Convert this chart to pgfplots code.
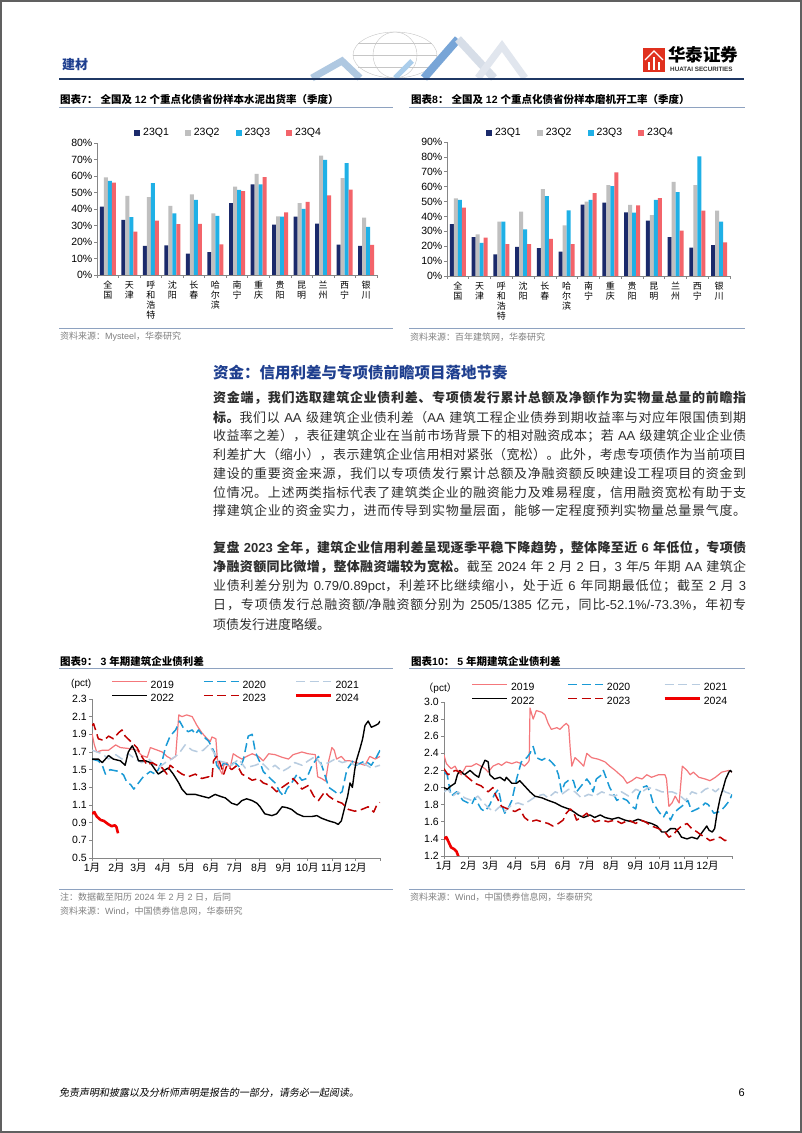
\documentclass[border=0pt]{standalone}
\usepackage{pgfplots}
\pgfplotsset{compat=1.18}
\usepackage{pgfplotstable}
\usepackage{fontspec}
\setmainfont{Liberation Sans}
\newfontfamily\cjk{Noto Sans CJK SC}
\newfontfamily\cjkit{Noto Sans CJK SC}[FakeSlant=0.18]

\definecolor{cQ1}{HTML}{1B2A6B}
\definecolor{cQ2}{HTML}{BFBFBF}
\definecolor{cQ3}{HTML}{1FB0E6}
\definecolor{cQ4}{HTML}{F3646A}
\definecolor{c19}{HTML}{F4777B}
\definecolor{c20}{HTML}{1A9AD6}
\definecolor{c21}{HTML}{B8CCE0}
\definecolor{c22}{HTML}{000000}
\definecolor{c23}{HTML}{C00000}
\definecolor{c24}{HTML}{F00000}
\definecolor{hblue}{HTML}{1F3F8F}
\definecolor{hnavy}{HTML}{1F3864}
\definecolor{tline}{HTML}{8EA2C0}
\definecolor{srcgray}{HTML}{808080}
\definecolor{axgray}{HTML}{868686}
\definecolor{logored}{HTML}{E0301E}
\definecolor{dA}{RGB}{175,200,225}
\definecolor{dB}{RGB}{120,165,215}
\definecolor{dC}{RGB}{215,222,232}
\definecolor{dD}{RGB}{225,230,238}
\definecolor{dE}{RGB}{170,205,235}

\pgfplotstableread{
i q1 q2 q3 q4
0 41.5 59.1 57.1 56.0
1 33.4 48.0 35.0 26.3
2 17.6 47.2 55.7 33.0
3 18.0 41.9 37.4 30.8
4 13.0 48.8 45.5 31.0
5 13.8 37.4 35.8 18.6
6 43.5 53.6 51.6 50.8
7 54.9 61.3 54.9 59.3
8 30.6 35.6 35.4 38.0
9 35.4 43.5 40.0 44.3
10 31.2 72.3 69.8 48.2
11 18.4 58.7 67.8 51.8
12 17.6 34.8 29.1 18.2
}\tabA
\pgfplotstableread{
i q1 q2 q3 q4
0 34.9 52.2 51.1 45.9
1 26.1 27.9 22.3 25.7
2 14.6 36.5 36.5 21.4
3 19.6 43.2 31.3 21.4
4 18.7 58.3 53.6 25.0
5 16.4 34.0 44.1 21.4
6 48.0 50.0 51.1 55.6
7 49.3 61.0 60.4 69.6
8 42.8 47.7 42.6 47.5
9 37.2 40.8 51.1 52.3
10 26.1 63.3 56.3 30.4
11 19.1 61.0 80.4 43.9
12 20.7 43.9 36.5 22.5
}\tabB

\pgfplotsset{
 barax/.style={scale only axis, ybar=0pt, bar width=4pt, ymin=0, xmin=-0.5, xmax=12.5,
   xtick={0,...,12},
   xticklabels={{全\\国},{天\\津},{呼\\和\\浩\\特},{沈\\阳},{长\\春},{哈\\尔\\滨},{南\\宁},{重\\庆},{贵\\阳},{昆\\明},{兰\\州},{西\\宁},{银\\川}},
   axis lines*=left, axis line style={axgray, line width=0.6pt},
   tick align=outside, major tick length=3pt, minor tick length=3pt,
   every major x tick/.append style={draw=none},
   minor xtick={-0.5,0.5,...,12.5},
   every minor x tick/.append style={axgray, line width=0.6pt},
   ytick style={axgray, line width=0.6pt},
   yticklabel={\pgfmathprintnumber{\tick}\%},
   /pgf/number format/assume math mode=true,
   yticklabel style={font=\fontsize{10.5}{12}\selectfont, inner sep=1.5pt},
   xticklabel style={font=\fontsize{9}{10}\selectfont, align=center, anchor=north, inner sep=0pt, yshift=-3pt},
   legend columns=4,
   legend image code/.code={\fill[##1] (0pt,-3pt) rectangle (6pt,3pt);},
   legend style={draw=none, fill=none, font=\fontsize{10.5}{12}\selectfont, anchor=center, nodes={inner sep=1pt},
     /tikz/every odd column/.append style={column sep=2pt},
     /tikz/every even column/.append style={column sep=15pt}},
 },
 lineax/.style={scale only axis, xmin=0, xmax=365,
   xtick={0,31,59,90,120,151,181,212,243,273,304,334},
   xticklabels={1月,2月,3月,4月,5月,6月,7月,8月,9月,10月,11月,12月},
   extra x ticks={365}, extra x tick labels={},
   axis lines*=left, axis line style={axgray, line width=0.6pt},
   tick align=outside, major tick length=3pt,
   tick style={axgray, line width=0.6pt},
   /pgf/number format/assume math mode=true,
   ticklabel style={font=\fontsize{10.5}{12}\selectfont},
   yticklabel style={/pgf/number format/fixed, /pgf/number format/fixed zerofill, /pgf/number format/precision=1, inner sep=2pt},
   xticklabel style={inner sep=2pt},
   legend columns=3,
   legend image code/.code={\draw[##1] (0pt,3.5pt) -- (35pt,3.5pt);},
   legend style={draw=none, fill=none, font=\fontsize{10.5}{12}\selectfont, anchor=north west, nodes={inner sep=1pt},
     /tikz/every odd column/.append style={column sep=2pt}, row sep=3pt},
   every axis plot/.append style={line join=round},
 },
 s19/.style={c19, line width=1.2pt},
 s20/.style={c20, line width=1.5pt, dash pattern=on 9pt off 4.5pt},
 s21/.style={c21, line width=1.5pt, dash pattern=on 9pt off 4.5pt},
 s22/.style={c22, line width=1.4pt},
 s23/.style={c23, line width=1.5pt, dash pattern=on 9pt off 4.5pt},
 s24/.style={c24, line width=2.6pt},
}

\XeTeXinterchartokenstate=1
\newXeTeXintercharclass\CJKcls
\newcount\cc
\def\setcls#1#2{\cc=#1\relax\loop\XeTeXcharclass\cc=\CJKcls\relax\ifnum\cc<#2\relax\advance\cc by 1\repeat}
\setcls{"3000}{"303F}
\setcls{"4E00}{"9FFF}
\setcls{"FF00}{"FFEF}
\XeTeXinterchartoks 0 \CJKcls = {\cjk}
\XeTeXinterchartoks 4095 \CJKcls = {\cjk}
\XeTeXinterchartoks \CJKcls 0 = {\rmfamily}
\XeTeXinterchartoks \CJKcls 4095 = {\rmfamily}
\XeTeXinterchartoks \CJKcls \CJKcls = {\hskip0pt plus 1pt\relax}

\newcommand\bl[2]{\node[anchor=west,inner sep=0pt,font=\fontsize{13}{14}\selectfont,text=black!82] at (213,#1) {\makebox[533pt][s]{#2}};}
\newcommand\blast[2]{\node[anchor=west,inner sep=0pt,font=\fontsize{13}{14}\selectfont,text=black!82] at (213,#1) {#2};}

\begin{document}
\begin{tikzpicture}[x=1pt,y=1pt]
\useasboundingbox (0,0) rectangle (802,1133);
\fill[white] (0,0) rectangle (802,1133);
\draw[gray!75!black, line width=2pt] (1,1) rectangle (801,1132);

% ---------- header ----------
\begin{scope}
\draw[gray!45, line width=0.4pt] (395,1078) ellipse (42 and 23);
\draw[gray!45, line width=0.4pt] (395,1078) ellipse (22 and 23);
\draw[gray!45, line width=0.4pt] (353,1078) -- (437,1078);
\draw[gray!45, line width=0.4pt] (358,1066) -- (432,1066);
\draw[gray!45, line width=0.4pt] (358,1090) -- (432,1090);
\draw[line width=7pt, dA] (312,1055) -- (342,1072) -- (360,1055);
\draw[line width=8pt, dB] (424,1055) -- (458,1094);
\draw[line width=8pt, dC] (458,1094) -- (494,1055);
\draw[line width=7pt, dD] (478,1055) -- (502,1087) -- (525,1055);
\draw[line width=5pt, dE] (395,1055) -- (412,1072);
\end{scope}
\node[anchor=west, inner sep=0pt, text=hblue, font=\bfseries\fontsize{13}{14}\selectfont] at (62,1068) {建材};
\draw[hnavy, line width=2pt] (59,1054) -- (744,1054);
\fill[logored] (643,1061) rectangle (665,1085);
\draw[white, line width=1.3pt] (645,1073) -- (654,1082) -- (663,1073);
\draw[white, line width=1.3pt] (649,1063) -- (649,1071) (654,1063) -- (654,1076) (659,1063) -- (659,1071);
\node[anchor=west, inner sep=0pt, font=\bfseries\fontsize{17.5}{18}\selectfont] at (668,1078) {华泰证券};
\node[anchor=west, inner sep=0pt, font=\bfseries\fontsize{6.3}{7}\selectfont, text=black!80] at (670,1064) {HUATAI SECURITIES};

% ---------- figure titles top ----------
\node[anchor=west, inner sep=0pt, font=\bfseries\fontsize{10.5}{11}\selectfont] at (60,1033) {图表7：\hspace{3pt}全国及 12 个重点化债省份样本水泥出货率（季度）};
\draw[tline, line width=0.8pt] (59,1026) -- (393,1026);
\node[anchor=west, inner sep=0pt, font=\bfseries\fontsize{10.5}{11}\selectfont] at (411,1033) {图表8：\hspace{3pt}全国及 12 个重点化债省份样本磨机开工率（季度）};
\draw[tline, line width=0.8pt] (409,1026) -- (745,1026);

% ---------- chart 7 ----------
\begin{axis}[barax, at={(97pt,858pt)}, anchor=south west, width=280pt, height=132pt,
  ymax=80, ytick={0,10,...,80}, legend style={at={(0.468,1.076)}}]
\addplot[fill=cQ1, draw=none] table[x=i,y=q1]{\tabA};
\addplot[fill=cQ2, draw=none] table[x=i,y=q2]{\tabA};
\addplot[fill=cQ3, draw=none] table[x=i,y=q3]{\tabA};
\addplot[fill=cQ4, draw=none] table[x=i,y=q4]{\tabA};
\legend{23Q1,23Q2,23Q3,23Q4}
\end{axis}

% ---------- chart 8 ----------
\begin{axis}[barax, at={(447pt,857pt)}, anchor=south west, width=283pt, height=134pt,
  ymax=90, ytick={0,10,...,90}, legend style={at={(0.47,1.067)}}]
\addplot[fill=cQ1, draw=none] table[x=i,y=q1]{\tabB};
\addplot[fill=cQ2, draw=none] table[x=i,y=q2]{\tabB};
\addplot[fill=cQ3, draw=none] table[x=i,y=q3]{\tabB};
\addplot[fill=cQ4, draw=none] table[x=i,y=q4]{\tabB};
\legend{23Q1,23Q2,23Q3,23Q4}
\end{axis}

\draw[tline, line width=0.6pt] (59,805) -- (393,805);
\draw[tline, line width=0.6pt] (409,805) -- (745,805);
\node[anchor=west, inner sep=0pt, text=srcgray, font=\fontsize{9}{10}\selectfont] at (60,796) {资料来源：Mysteel，华泰研究};
\node[anchor=west, inner sep=0pt, text=srcgray, font=\fontsize{9}{10}\selectfont] at (410,796) {资料来源：百年建筑网，华泰研究};

% ---------- text ----------
\node[anchor=west, inner sep=0pt, text=hblue, font=\bfseries\fontsize{15.5}{16}\selectfont] at (213,760) {资金：信用利差与专项债前瞻项目落地节奏};
\bl{734.7}{\bfseries 资金端，我们选取建筑企业债利差、专项债发行累计总额及净额作为实物量总量的前瞻指}
\bl{715.7}{{\bfseries 标。}我们以 AA 级建筑企业债利差（AA 建筑工程企业债券到期收益率与对应年限国债到期}
\bl{697}{收益率之差），表征建筑企业在当前市场背景下的相对融资成本；若 AA 级建筑企业企业债}
\bl{678}{利差扩大（缩小），表示建筑企业信用相对紧张（宽松）。此外，考虑专项债作为当前项目}
\bl{659.3}{建设的重要资金来源，我们以专项债发行累计总额及净融资额反映建设工程项目的资金到}
\bl{640.7}{位情况。上述两类指标代表了建筑类企业的融资能力及难易程度，信用融资宽松有助于支}
\bl{622}{撑建筑企业的资金实力，进而传导到实物量层面，能够一定程度预判实物量总量景气度。}
\bl{584.7}{\bfseries 复盘 2023 全年，建筑企业信用利差呈现逐季平稳下降趋势，整体降至近 6 年低位，专项债}
\bl{565.7}{{\bfseries 净融资额同比微增，整体融资端较为宽松。}截至 2024 年 2 月 2 日，3 年/5 年期 AA 建筑企}
\bl{547}{业债利差分别为 0.79/0.89pct，利差环比继续缩小，处于近 6 年同期最低位；截至 2 月 3}
\bl{528}{日，专项债发行总融资额/净融资额分别为 2505/1385 亿元，同比-52.1\%/-73.3\%，年初专}
\blast{508.7}{项债发行进度略缓。}

% ---------- figure titles bottom ----------
\node[anchor=west, inner sep=0pt, font=\bfseries\fontsize{10.5}{11}\selectfont] at (60,472) {图表9：\hspace{3pt}3 年期建筑企业债利差};
\draw[tline, line width=0.8pt] (59,465) -- (393,465);
\node[anchor=west, inner sep=0pt, font=\bfseries\fontsize{10.5}{11}\selectfont] at (411,472) {图表10：\hspace{3pt}5 年期建筑企业债利差};
\draw[tline, line width=0.8pt] (409,465) -- (745,465);

% ---------- chart 9 ----------
\node[anchor=west, inner sep=0pt, font=\fontsize{10}{11}\selectfont] at (71,449) {(pct)};
\begin{axis}[lineax, at={(92pt,275pt)}, anchor=south west, width=288pt, height=159pt,
  ymin=0.5, ymax=2.3, ytick={0.5,0.7,0.9,1.1,1.3,1.5,1.7,1.9,2.1,2.3},
  legend style={at={(0.056,1.135)}, /tikz/every even column/.append style={column sep=28pt}}]
\addplot[s19] coordinates {(0,1.91)(3,1.78)(6,1.70)(13,1.72)(21,1.72)(30,1.78)(36,1.75)(46,1.74)(57,1.72)(63,1.66)(70,1.64)(74,1.75)(80,1.73)(89,1.70)(95,1.65)(101,1.62)(106,1.65)(110,2.12)(114,2.10)(120,2.12)(127,2.10)(133,2.00)(139,1.92)(146,1.85)(150,1.82)(152,1.87)(157,1.85)(159,1.60)(162,1.50)(165,1.45)(167,1.55)(171,1.58)(175,1.52)(179,1.68)(184,1.65)(190,1.62)(196,1.65)(203,1.68)(211,1.65)(217,1.60)(224,1.68)(232,1.67)(241,1.64)(249,1.62)(255,1.67)(266,1.70)(274,1.68)(283,1.67)(286,1.42)(291,1.40)(296,1.37)(300,1.60)(304,1.75)(307,1.72)(310,1.62)(316,1.65)(321,1.60)(327,1.60)(335,1.58)(346,1.55)(352,1.65)(359,1.62)(365,1.65)};
\addplot[s20] coordinates {(0,1.62)(8,1.60)(13,1.55)(17,1.45)(23,1.50)(34,1.48)(40,1.44)(44,1.36)(49,1.33)(53,1.28)(59,1.35)(65,1.42)(74,1.48)(80,1.45)(84,1.50)(89,1.60)(93,1.75)(99,1.88)(106,1.95)(111,2.05)(116,1.97)(122,1.93)(127,1.95)(131,1.90)(135,1.95)(141,1.88)(148,1.82)(152,1.75)(155,1.70)(158,1.55)(162,1.50)(167,1.58)(173,1.55)(181,1.58)(188,1.52)(192,1.62)(198,1.88)(203,1.90)(207,1.70)(213,1.58)(217,1.48)(226,1.40)(232,1.35)(238,1.25)(243,1.20)(247,1.28)(253,1.35)(260,1.45)(266,1.38)(272,1.40)(279,1.55)(287,1.65)(293,1.50)(300,1.30)(308,1.25)(312,1.22)(317,1.25)(323,1.50)(331,1.60)(335,1.55)(346,1.60)(354,1.55)(361,1.65)(365,1.72)};
\addplot[s21] coordinates {(0,1.72)(13,1.68)(21,1.62)(30,1.67)(38,1.62)(46,1.68)(55,1.62)(63,1.58)(72,1.62)(80,1.55)(84,1.52)(93,1.58)(101,1.62)(110,1.68)(118,1.78)(127,1.72)(135,1.70)(141,1.72)(148,1.78)(154,1.70)(160,1.60)(169,1.58)(177,1.55)(186,1.62)(194,1.52)(207,1.55)(215,1.58)(224,1.50)(232,1.55)(241,1.48)(249,1.52)(257,1.58)(266,1.55)(274,1.60)(283,1.65)(291,1.55)(300,1.58)(308,1.62)(317,1.58)(325,1.60)(333,1.55)(342,1.58)(354,1.52)(365,1.55)};
\addplot[s22] coordinates {(0,1.62)(8,1.62)(13,1.58)(17,1.62)(21,1.66)(27,1.62)(36,1.60)(42,1.55)(46,1.70)(51,1.77)(55,1.70)(59,1.60)(68,1.60)(74,1.58)(80,1.50)(84,1.45)(89,1.48)(97,1.52)(103,1.45)(110,1.35)(114,1.28)(120,1.22)(131,1.22)(139,1.20)(148,1.18)(156,1.22)(162,1.20)(169,1.18)(177,1.12)(184,1.10)(190,1.15)(196,1.17)(203,1.15)(209,1.12)(213,1.08)(219,1.00)(228,0.98)(234,1.00)(241,1.08)(247,1.07)(253,1.05)(260,1.00)(268,0.97)(279,0.97)(285,0.98)(291,0.95)(300,0.92)(308,0.90)(312,0.88)(316,0.92)(321,1.10)(324,1.20)(327,1.35)(330,1.30)(333,1.50)(335,1.60)(340,1.75)(343,1.85)(346,2.00)(350,2.05)(354,1.98)(359,2.00)(363,2.02)(365,2.05)};
\addplot[s23] coordinates {(0,2.00)(2,2.02)(8,1.85)(15,1.83)(21,1.88)(27,1.85)(34,1.92)(38,1.95)(42,1.88)(49,1.82)(57,1.75)(63,1.65)(70,1.55)(76,1.58)(82,1.55)(89,1.52)(95,1.45)(99,1.55)(106,1.50)(114,1.45)(122,1.42)(131,1.45)(139,1.40)(148,1.42)(152,1.40)(154,1.60)(158,1.65)(162,1.58)(167,1.45)(171,1.55)(177,1.50)(184,1.55)(190,1.45)(196,1.42)(203,1.38)(211,1.40)(217,1.35)(226,1.32)(234,1.25)(241,1.30)(249,1.35)(255,1.40)(260,1.35)(266,1.28)(274,1.32)(281,1.20)(287,1.15)(295,1.25)(300,1.20)(308,1.15)(317,1.12)(325,1.05)(333,1.03)(342,1.05)(350,1.08)(357,1.02)(361,1.10)(365,1.13)};
\addplot[s24] coordinates {(0,1.00)(3,1.02)(6,0.97)(11,0.93)(15,0.92)(21,0.88)(25,0.86)(29,0.87)(31,0.85)(33,0.78)};
\legend{2019,2020,2021,2022,2023,2024}
\end{axis}

% ---------- chart 10 ----------
\node[anchor=east, inner sep=0pt, font=\fontsize{10}{11}\selectfont] at (457,445) {（pct）};
\begin{axis}[lineax, at={(444pt,277pt)}, anchor=south west, width=288pt, height=154pt,
  ymin=1.2, ymax=3.0, ytick={1.2,1.4,1.6,1.8,2.0,2.2,2.4,2.6,2.8,3.0},
  legend style={at={(0.085,1.14)}, /tikz/every even column/.append style={column sep=32pt}}]
\addplot[s19] coordinates {(0,2.38)(3,2.28)(9,2.22)(14,2.25)(18,2.18)(22,2.15)(28,2.25)(35,2.25)(41,2.28)(47,2.25)(52,2.22)(56,2.18)(62,2.25)(69,2.28)(73,2.26)(79,2.30)(86,2.28)(92,2.30)(98,2.28)(102,2.25)(107,2.30)(108,2.32)(109,2.93)(113,2.80)(117,2.90)(124,2.88)(128,2.85)(132,2.75)(136,2.68)(143,2.70)(147,2.68)(151,2.72)(155,2.75)(158,2.72)(160,2.45)(162,2.25)(166,2.35)(172,2.30)(177,2.25)(181,2.40)(187,2.35)(196,2.33)(204,2.30)(210,2.25)(217,2.20)(223,2.15)(227,2.12)(232,2.05)(238,2.08)(244,2.12)(251,2.10)(257,2.15)(263,2.12)(272,2.15)(280,2.15)(282,2.10)(285,1.78)(289,1.82)(293,1.90)(296,1.85)(298,1.82)(302,2.25)(308,2.20)(312,2.15)(316,2.18)(323,2.12)(331,2.10)(337,2.08)(344,2.12)(352,2.18)(361,2.20)(365,2.18)};
\addplot[s20] coordinates {(0,2.18)(4,2.15)(9,1.90)(16,1.95)(24,1.85)(35,1.80)(39,1.88)(47,1.75)(52,1.72)(58,1.80)(64,1.92)(69,1.98)(73,1.80)(77,1.70)(81,1.75)(86,1.85)(92,2.10)(98,2.30)(105,2.35)(109,2.40)(113,2.48)(117,2.35)(124,2.32)(130,2.35)(136,2.30)(141,2.25)(145,2.15)(147,2.05)(149,1.95)(153,2.05)(160,2.10)(164,2.08)(168,1.95)(174,2.02)(181,2.10)(185,2.05)(189,1.95)(193,2.10)(200,2.15)(202,2.20)(206,2.10)(210,2.00)(215,1.92)(219,1.85)(225,1.88)(232,1.85)(238,1.78)(243,1.75)(246,1.90)(251,2.00)(257,2.02)(261,1.95)(265,1.82)(272,1.72)(278,1.65)(282,1.72)(287,1.62)(291,1.70)(297,1.75)(304,1.80)(309,1.85)(314,1.72)(321,1.75)(327,1.78)(331,1.82)(335,1.80)(342,1.70)(350,1.72)(356,1.78)(362,1.85)(365,1.92)};
\addplot[s21] coordinates {(0,1.95)(5,1.98)(11,1.90)(18,1.95)(26,1.88)(35,1.85)(43,1.90)(50,1.82)(58,1.75)(64,1.72)(71,1.78)(77,1.72)(86,1.80)(94,1.82)(100,1.80)(109,1.85)(117,1.90)(126,1.92)(132,1.88)(141,1.95)(149,1.92)(158,1.98)(166,1.95)(174,1.88)(183,1.92)(191,1.90)(200,1.95)(208,1.92)(217,1.90)(225,1.95)(234,1.90)(243,1.98)(251,1.95)(259,2.00)(268,1.98)(276,1.95)(289,1.95)(297,1.92)(306,1.85)(314,1.95)(323,1.92)(331,1.98)(337,2.00)(344,1.95)(350,2.00)(356,1.95)(365,1.92)};
\addplot[s22] coordinates {(0,2.00)(4,1.98)(9,2.02)(14,2.05)(17,2.15)(20,2.20)(26,2.15)(33,2.20)(39,2.15)(44,2.12)(47,2.22)(52,2.32)(56,2.30)(58,2.15)(64,2.10)(71,2.12)(77,2.08)(79,2.12)(86,2.05)(92,2.05)(96,2.08)(102,2.02)(109,1.95)(115,1.90)(124,1.88)(132,1.85)(141,1.82)(149,1.78)(158,1.75)(164,1.72)(170,1.68)(177,1.65)(185,1.68)(191,1.65)(198,1.68)(204,1.65)(213,1.63)(221,1.65)(229,1.62)(238,1.60)(246,1.63)(255,1.60)(263,1.58)(270,1.55)(276,1.48)(282,1.48)(287,1.52)(293,1.52)(297,1.48)(301,1.42)(308,1.40)(314,1.42)(321,1.40)(325,1.45)(329,1.50)(333,1.55)(336,1.50)(340,1.48)(343,1.52)(346,1.70)(350,1.88)(354,2.00)(357,2.10)(361,2.18)(363,2.20)(365,2.18)};
\addplot[s23] coordinates {(0,2.22)(5,2.15)(14,2.20)(22,2.18)(30,2.12)(39,2.05)(47,2.02)(56,1.95)(62,2.00)(66,1.90)(73,1.78)(81,1.75)(90,1.72)(96,1.75)(102,1.65)(109,1.60)(117,1.62)(124,1.60)(132,1.58)(138,1.55)(145,1.58)(151,1.62)(155,1.70)(160,1.75)(164,1.72)(168,1.62)(174,1.65)(181,1.70)(185,1.65)(191,1.60)(200,1.62)(208,1.60)(217,1.62)(225,1.58)(234,1.62)(243,1.58)(249,1.62)(255,1.60)(263,1.55)(272,1.52)(280,1.48)(285,1.42)(291,1.45)(295,1.50)(301,1.55)(308,1.58)(314,1.52)(321,1.48)(325,1.45)(331,1.42)(337,1.38)(344,1.40)(350,1.42)(356,1.38)(363,1.40)};
\addplot[s24] coordinates {(0,1.40)(3,1.42)(5,1.38)(9,1.30)(13,1.28)(16,1.25)(18,1.20)(22,1.12)(28,1.00)(32,0.89)};
\legend{2019,2020,2021,2022,2023,2024}
\end{axis}

\draw[tline, line width=0.6pt] (59,244) -- (393,244);
\draw[tline, line width=0.6pt] (409,244) -- (745,244);
\node[anchor=west, inner sep=0pt, text=srcgray, font=\fontsize{9}{10}\selectfont] at (60,236) {注：数据截至阳历 2024 年 2 月 2 日，后同};
\node[anchor=west, inner sep=0pt, text=srcgray, font=\fontsize{9}{10}\selectfont] at (60,222) {资料来源：Wind，中国债券信息网，华泰研究};
\node[anchor=west, inner sep=0pt, text=srcgray, font=\fontsize{9}{10}\selectfont] at (410,236) {资料来源：Wind，中国债券信息网，华泰研究};

% ---------- footer ----------
\node[anchor=west, inner sep=0pt, font=\fontsize{10}{11}\selectfont] at (59,40) {\XeTeXinterchartokenstate=0 \cjkit 免责声明和披露以及分析师声明是报告的一部分，请务必一起阅读。};
\node[anchor=east, inner sep=0pt, font=\fontsize{11}{12}\selectfont] at (745,40) {6};
\end{tikzpicture}
\end{document}
